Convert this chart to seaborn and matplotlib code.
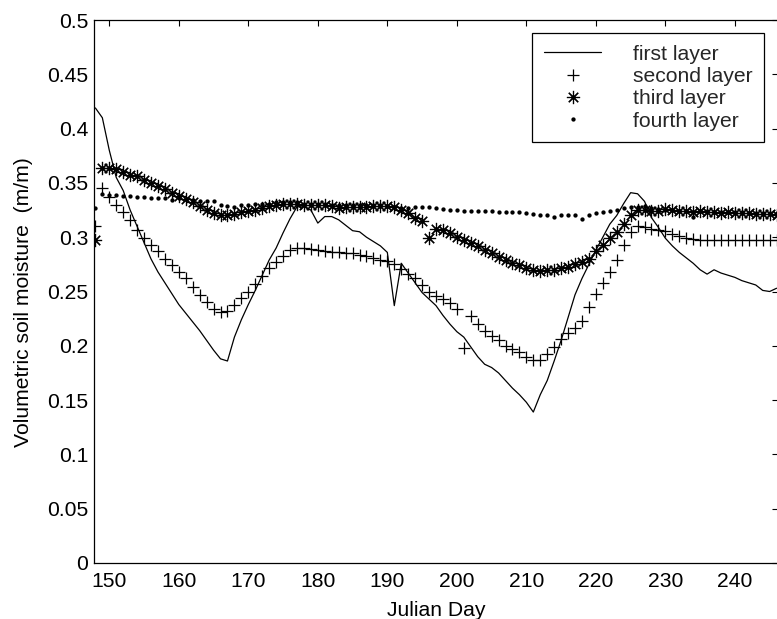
import numpy as np
import pandas as pd
import matplotlib
matplotlib.use("Agg")
import matplotlib.pyplot as plt
import seaborn as sns

# ---------------- data ----------------
days = list(range(148, 247))

first_layer = [
    0.419, 0.410, 0.380, 0.355, 0.343, 0.325, 0.310, 0.295, 0.280, 0.268,   # 148-157
    0.258, 0.248, 0.238, 0.230, 0.222, 0.214, 0.205, 0.196, 0.188, 0.186,   # 158-167
    0.208, 0.224, 0.238, 0.251, 0.265, 0.279, 0.290, 0.304, 0.317, 0.328,   # 168-177
    0.328, 0.325, 0.313, 0.319, 0.319, 0.316, 0.311, 0.306, 0.305, 0.300,   # 178-187
    0.296, 0.292, 0.286, 0.237, 0.276, 0.267, 0.258, 0.249, 0.243, 0.237,   # 188-197
    0.228, 0.220, 0.213, 0.208, 0.199, 0.190, 0.183, 0.180, 0.175, 0.168,   # 198-207
    0.161, 0.155, 0.148, 0.139, 0.155, 0.168, 0.186, 0.205, 0.226, 0.247,   # 208-217
    0.262, 0.275, 0.288, 0.300, 0.312, 0.320, 0.331, 0.341, 0.340, 0.333,   # 218-227
    0.318, 0.309, 0.299, 0.292, 0.286, 0.281, 0.276, 0.270, 0.266, 0.270,   # 228-237
    0.267, 0.265, 0.263, 0.260, 0.258, 0.256, 0.251, 0.250, 0.253,          # 238-246
]

second_layer = [
    0.310, 0.345, 0.337, 0.330, 0.323, 0.316, 0.307, 0.299, 0.293, 0.287,   # 148-157
    0.280, 0.274, 0.268, 0.262, 0.254, 0.247, 0.240, 0.234, 0.231, 0.232,   # 158-167
    0.238, 0.244, 0.250, 0.257, 0.264, 0.272, 0.277, 0.283, 0.288, 0.290,   # 168-177
    0.290, 0.289, 0.288, 0.287, 0.286, 0.286, 0.285, 0.285, 0.284, 0.283,   # 178-187
    0.281, 0.279, 0.278, 0.275, 0.271, 0.266, 0.262, 0.256, 0.250, 0.246,   # 188-197
    0.243, 0.239, 0.234, 0.198, 0.227, 0.220, 0.214, 0.209, 0.205, 0.200,   # 198-207
    0.197, 0.194, 0.190, 0.187, 0.187, 0.192, 0.199, 0.206, 0.212, 0.216,   # 208-217
    0.223, 0.236, 0.248, 0.258, 0.268, 0.279, 0.293, 0.305, 0.310, 0.309,   # 218-227
    0.308, 0.307, 0.306, 0.303, 0.301, 0.299, 0.298, 0.297, 0.297, 0.297,   # 228-237
    0.297, 0.297, 0.297, 0.297, 0.297, 0.297, 0.297, 0.297, 0.297,          # 238-246
]

third_layer = [
    0.297, 0.364, 0.364, 0.363, 0.360, 0.357, 0.356, 0.353, 0.350, 0.347,   # 148-157
    0.344, 0.341, 0.338, 0.335, 0.332, 0.329, 0.325, 0.322, 0.320, 0.320,   # 158-167
    0.321, 0.323, 0.324, 0.325, 0.327, 0.329, 0.330, 0.331, 0.331, 0.331,   # 168-177
    0.330, 0.330, 0.330, 0.330, 0.329, 0.327, 0.328, 0.328, 0.328, 0.328,   # 178-187
    0.329, 0.329, 0.329, 0.328, 0.325, 0.322, 0.318, 0.315, 0.299, 0.308,   # 188-197
    0.307, 0.304, 0.300, 0.297, 0.295, 0.292, 0.288, 0.285, 0.282, 0.279,   # 198-207
    0.276, 0.274, 0.272, 0.270, 0.269, 0.270, 0.270, 0.272, 0.273, 0.275,   # 208-217
    0.277, 0.280, 0.287, 0.293, 0.299, 0.305, 0.312, 0.320, 0.325, 0.325,   # 218-227
    0.324, 0.324, 0.326, 0.325, 0.324, 0.324, 0.323, 0.324, 0.323, 0.323,   # 228-237
    0.322, 0.323, 0.322, 0.322, 0.322, 0.321, 0.321, 0.321, 0.320,          # 238-246
]

fourth_layer = [
    0.327, 0.340, 0.339, 0.339, 0.338, 0.338, 0.337, 0.337, 0.336, 0.336,   # 148-157
    0.336, 0.334, 0.336, 0.335, 0.334, 0.333, 0.333, 0.333, 0.330, 0.329,   # 158-167
    0.328, 0.330, 0.330, 0.331, 0.331, 0.331, 0.332, 0.332, 0.332, 0.332,   # 168-177
    0.331, 0.331, 0.331, 0.331, 0.330, 0.330, 0.330, 0.330, 0.330, 0.330,   # 178-187
    0.330, 0.330, 0.329, 0.328, 0.327, 0.327, 0.328, 0.328, 0.328, 0.327,   # 188-197
    0.326, 0.325, 0.325, 0.324, 0.324, 0.324, 0.324, 0.324, 0.323, 0.323,   # 198-207
    0.323, 0.323, 0.322, 0.321, 0.320, 0.320, 0.319, 0.320, 0.320, 0.320,   # 208-217
    0.317, 0.320, 0.322, 0.323, 0.324, 0.325, 0.327, 0.328, 0.328, 0.329,   # 218-227
    0.327, 0.326, 0.325, 0.325, 0.324, 0.324, 0.319, 0.324, 0.324, 0.323,   # 228-237
    0.323, 0.323, 0.323, 0.323, 0.322, 0.322, 0.322, 0.322, 0.322,          # 238-246
]

series_labels = ["first layer", "second layer", "third layer", "fourth layer"]
xtick_values = [150, 160, 170, 180, 190, 200, 210, 220, 230, 240]
ytick_values = [0, 0.05, 0.1, 0.15, 0.2, 0.25, 0.3, 0.35, 0.4, 0.45, 0.5]
ytick_labels = ["0", "0.05", "0.1", "0.15", "0.2", "0.25", "0.3", "0.35", "0.4", "0.45", "0.5"]
x_label = "Julian Day"
y_label = "Volumetric soil moisture  (m/m)"

# ---------------- style ----------------
sns.set_style("white")
plt.rcParams["font.family"] = ["Liberation Sans", "DejaVu Sans"]
plt.rcParams["axes.edgecolor"] = "black"
plt.rcParams["axes.linewidth"] = 0.9

FS = 15.2
W, H = 777, 619
fig = plt.figure(figsize=(W / 100, H / 100), dpi=100)
ax_left, ax_right, ax_top, ax_bottom = 94, 778, 20, 563
ax = fig.add_axes([ax_left / W, (H - ax_bottom) / H,
                   (ax_right - ax_left) / W, (ax_bottom - ax_top) / H])

df = pd.DataFrame({"day": days, "first": first_layer, "second": second_layer,
                   "third": third_layer, "fourth": fourth_layer})

sns.lineplot(data=df, x="day", y="first", ax=ax, color="black", linewidth=0.9,
             label=series_labels[0])
sns.lineplot(data=df, x="day", y="second", ax=ax, color="black", linestyle="",
             marker="+", markersize=9, markeredgewidth=0.9,
             markeredgecolor="black", label=series_labels[1])
sns.lineplot(data=df, x="day", y="third", ax=ax, color="black", linestyle="",
             marker=(8, 2, 0), markersize=9.5, markeredgewidth=0.85,
             markeredgecolor="black", label=series_labels[2])
sns.lineplot(data=df, x="day", y="fourth", ax=ax, color="black", linestyle="",
             marker="o", markersize=3.1, markeredgewidth=0,
             markerfacecolor="black", label=series_labels[3])

ax.set_xlim(147.8, 246.2)
ax.set_ylim(0, 0.5)
ax.set_xticks(xtick_values)
ax.set_xticklabels([str(v) for v in xtick_values])
ax.set_yticks(ytick_values)
ax.set_yticklabels(ytick_labels)

ax.tick_params(direction="in", length=4.5, width=0.8, colors="black",
               top=True, right=True, labelsize=FS)
ax.tick_params(axis="x", pad=6.5)
ax.tick_params(axis="y", pad=4)
for s in ax.spines.values():
    s.set_visible(True)
    s.set_color("black")
    s.set_linewidth(0.9)

ax.set_xlabel(x_label, fontsize=FS, color="black")
ax.set_ylabel(y_label, fontsize=FS, color="black")
ax.xaxis.set_label_coords(0.5, (ax_bottom - 601) / (ax_bottom - ax_top))
ax.yaxis.set_label_coords((33 - ax_left) / (ax_right - ax_left),
                          (ax_bottom - 302) / (ax_bottom - ax_top))

handles, labels = ax.get_legend_handles_labels()
leg = ax.legend(handles, labels, loc="upper right",
                bbox_to_anchor=((764 - ax_left) / (ax_right - ax_left),
                                (ax_bottom - 33) / (ax_bottom - ax_top)),
                borderaxespad=0, fontsize=FS, frameon=True, fancybox=False,
                edgecolor="black", framealpha=1, handlelength=2.7,
                handletextpad=1.5, labelspacing=0.16, borderpad=0.55)
leg.get_frame().set_linewidth(0.9)

fig.savefig("out.png", dpi=100)
